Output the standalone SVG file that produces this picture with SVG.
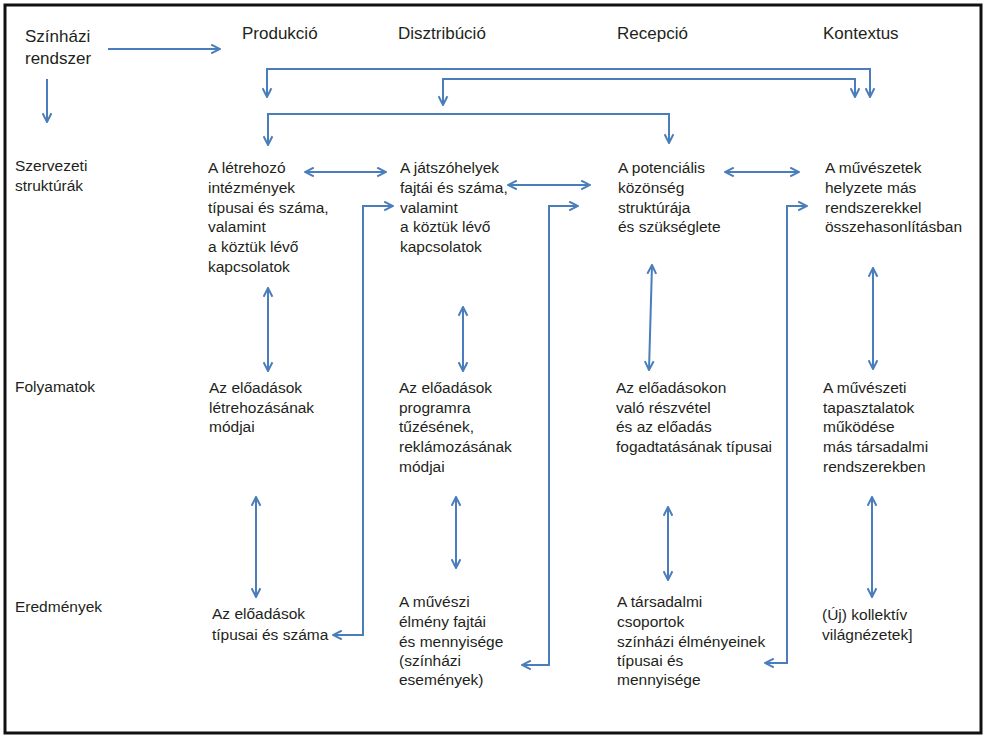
<svg xmlns="http://www.w3.org/2000/svg" width="985" height="735" viewBox="0 0 985 735">
<style>
text{font-family:"Liberation Sans",Arial,sans-serif;fill:#231f20}
.h{font-size:17px}
.b{font-size:15.5px}
.c{fill:none;stroke:#4a7ebb;stroke-width:2}
</style>
<defs>
<marker id="ah" viewBox="0 0 10 10" refX="9" refY="5" markerWidth="11" markerHeight="11" markerUnits="userSpaceOnUse" orient="auto-start-reverse">
<path d="M1,1 L9,5 L1,9" fill="none" stroke="#4a7ebb" stroke-width="1.8"/>
</marker>
</defs>
<rect x="0" y="0" width="985" height="735" fill="#ffffff"/>
<rect x="5" y="5" width="976" height="728" fill="none" stroke="#111" stroke-width="3"/>

<g id="hdr-rendszer"><text class="h" x="25" y="42">Színházi</text><text class="h" x="25" y="64">rendszer</text></g>
<g id="hdr-produkcio"><text class="h" x="242" y="39">Produkció</text></g>
<g id="hdr-disztribucio"><text class="h" x="398" y="39">Disztribúció</text></g>
<g id="hdr-recepcio"><text class="h" x="617" y="39">Recepció</text></g>
<g id="hdr-kontextus"><text class="h" x="823" y="39">Kontextus</text></g>

<g id="row-szervezeti"><text class="b" x="15" y="171">Szervezeti</text><text class="b" x="15" y="191">struktúrák</text></g>
<g id="row-folyamatok"><text class="b" x="15" y="392">Folyamatok</text></g>
<g id="row-eredmenyek"><text class="b" x="15" y="612">Eredmények</text></g>

<g id="n11"><text class="b" x="208"><tspan x="208" y="173">A létrehozó</tspan><tspan x="208" y="193">intézmények</tspan><tspan x="208" y="213">típusai és száma,</tspan><tspan x="208" y="232">valamint</tspan><tspan x="208" y="252">a köztük lévő</tspan><tspan x="208" y="272">kapcsolatok</tspan></text></g>
<g id="n12"><text class="b"><tspan x="400" y="173">A játszóhelyek</tspan><tspan x="400" y="193">fajtái és száma,</tspan><tspan x="400" y="213">valamint</tspan><tspan x="400" y="232">a köztük lévő</tspan><tspan x="400" y="252">kapcsolatok</tspan></text></g>
<g id="n13"><text class="b"><tspan x="618" y="173">A potenciális</tspan><tspan x="618" y="193">közönség</tspan><tspan x="618" y="213">struktúrája</tspan><tspan x="618" y="232">és szükséglete</tspan></text></g>
<g id="n14"><text class="b"><tspan x="825" y="173">A művészetek</tspan><tspan x="825" y="193">helyzete más</tspan><tspan x="825" y="213">rendszerekkel</tspan><tspan x="825" y="232">összehasonlításban</tspan></text></g>

<g id="n21"><text class="b"><tspan x="209" y="393">Az előadások</tspan><tspan x="209" y="413">létrehozásának</tspan><tspan x="209" y="432">módjai</tspan></text></g>
<g id="n22"><text class="b"><tspan x="399" y="393">Az előadások</tspan><tspan x="399" y="413">programra</tspan><tspan x="399" y="432">tűzésének,</tspan><tspan x="399" y="452">reklámozásának</tspan><tspan x="399" y="472">módjai</tspan></text></g>
<g id="n23"><text class="b"><tspan x="616" y="393">Az előadásokon</tspan><tspan x="616" y="413">való részvétel</tspan><tspan x="616" y="432">és az előadás</tspan><tspan x="616" y="452">fogadtatásának típusai</tspan></text></g>
<g id="n24"><text class="b"><tspan x="823" y="393">A művészeti</tspan><tspan x="823" y="413">tapasztalatok</tspan><tspan x="823" y="432">működése</tspan><tspan x="823" y="452">más társadalmi</tspan><tspan x="823" y="472">rendszerekben</tspan></text></g>

<g id="n31"><text class="b"><tspan x="212" y="619">Az előadások</tspan><tspan x="212" y="640">típusai és száma</tspan></text></g>
<g id="n32"><text class="b"><tspan x="399" y="607">A művészi</tspan><tspan x="399" y="627">élmény fajtái</tspan><tspan x="399" y="647">és mennyisége</tspan><tspan x="399" y="666">(színházi</tspan><tspan x="399" y="685">események)</tspan></text></g>
<g id="n33"><text class="b"><tspan x="617" y="607">A társadalmi</tspan><tspan x="617" y="627">csoportok</tspan><tspan x="617" y="647">színházi élményeinek</tspan><tspan x="617" y="666">típusai és</tspan><tspan x="617" y="685">mennyisége</tspan></text></g>
<g id="n34"><text class="b"><tspan x="822" y="620">(Új) kollektív</tspan><tspan x="822" y="640">világnézetek]</tspan></text></g>

<g id="connectors">
<path class="c" d="M108,49 H220" marker-end="url(#ah)"/>
<path class="c" d="M47,79 V122" marker-end="url(#ah)"/>
<path class="c" d="M267,97 V69 H870 V97" marker-start="url(#ah)" marker-end="url(#ah)"/>
<path class="c" d="M443,105 V79 H855 V97" marker-start="url(#ah)" marker-end="url(#ah)"/>
<path class="c" d="M268,145 V114 H669 V143" marker-start="url(#ah)" marker-end="url(#ah)"/>

<path class="c" d="M305,172 H386" marker-start="url(#ah)" marker-end="url(#ah)"/>
<path class="c" d="M508,185 H590" marker-start="url(#ah)" marker-end="url(#ah)"/>
<path class="c" d="M725,172 H799" marker-start="url(#ah)" marker-end="url(#ah)"/>

<path class="c" d="M268,288 V371" marker-start="url(#ah)" marker-end="url(#ah)"/>
<path class="c" d="M463,307 V371" marker-start="url(#ah)" marker-end="url(#ah)"/>
<path class="c" d="M652,265 L649,370" marker-start="url(#ah)" marker-end="url(#ah)"/>
<path class="c" d="M873,268 V369" marker-start="url(#ah)" marker-end="url(#ah)"/>

<path class="c" d="M256,497 V597" marker-start="url(#ah)" marker-end="url(#ah)"/>
<path class="c" d="M456,497 V568" marker-start="url(#ah)" marker-end="url(#ah)"/>
<path class="c" d="M668,507 V580" marker-start="url(#ah)" marker-end="url(#ah)"/>
<path class="c" d="M872,497 V597" marker-start="url(#ah)" marker-end="url(#ah)"/>

<path class="c" d="M333,635 H363 V206 H393" marker-start="url(#ah)" marker-end="url(#ah)"/>
<path class="c" d="M522,665 H549 V206 H578" marker-start="url(#ah)" marker-end="url(#ah)"/>
<path class="c" d="M765,663 H787 V206 H807" marker-start="url(#ah)" marker-end="url(#ah)"/>
</g>
</svg>
